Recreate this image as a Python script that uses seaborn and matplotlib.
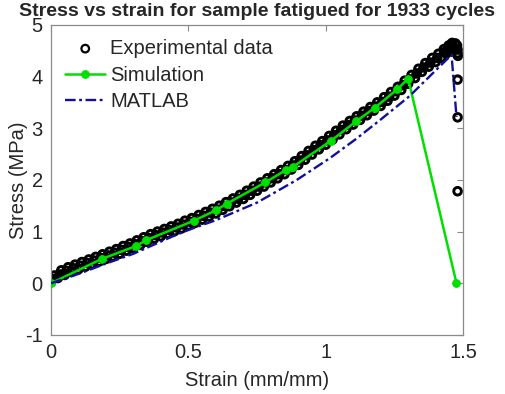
import numpy as np
import pandas as pd
import matplotlib
matplotlib.use("Agg")
import matplotlib.pyplot as plt
import seaborn as sns

# experimental data: lower and upper rows of the dense black band,
# then the drop at failure (x = 1.48)
exp_strain = [0.0000, 0.0125, 0.0250, 0.0375, 0.0500, 0.0625, 0.0750, 0.0875, 0.1000, 0.1125,
              0.1250, 0.1375, 0.1500, 0.1625, 0.1750, 0.1875, 0.2000, 0.2125, 0.2250, 0.2375,
              0.2500, 0.2625, 0.2750, 0.2875, 0.3000, 0.3125, 0.3250, 0.3375, 0.3500, 0.3625,
              0.3750, 0.3875, 0.4000, 0.4125, 0.4250, 0.4375, 0.4500, 0.4625, 0.4750, 0.4875,
              0.5000, 0.5125, 0.5250, 0.5375, 0.5500, 0.5625, 0.5750, 0.5875, 0.6000, 0.6125,
              0.6250, 0.6375, 0.6500, 0.6625, 0.6750, 0.6875, 0.7000, 0.7125, 0.7250, 0.7375,
              0.7500, 0.7625, 0.7750, 0.7875, 0.8000, 0.8125, 0.8250, 0.8375, 0.8500, 0.8625,
              0.8750, 0.8875, 0.9000, 0.9125, 0.9250, 0.9375, 0.9500, 0.9625, 0.9750, 0.9875,
              1.0000, 1.0125, 1.0250, 1.0375, 1.0500, 1.0625, 1.0750, 1.0875, 1.1000, 1.1125,
              1.1250, 1.1375, 1.1500, 1.1625, 1.1750, 1.1875, 1.2000, 1.2125, 1.2250, 1.2375,
              1.2500, 1.2625, 1.2750, 1.2875, 1.3000, 1.3125, 1.3250, 1.3375, 1.3500, 1.3625,
              1.3750, 1.3875, 1.4000, 1.4100, 1.4200, 1.4300, 1.4400, 1.4475, 1.4550, 1.4600,
              1.4650, 1.4720, 1.4780, 1.4800, 1.4800, 1.4810, 1.4800, 1.4800, 1.4800]
exp_stress = [0.02, 0.15, 0.10, 0.25, 0.16, 0.31, 0.22, 0.36, 0.27, 0.41,
              0.32, 0.46, 0.37, 0.51, 0.42, 0.56, 0.47, 0.61, 0.52, 0.66,
              0.57, 0.72, 0.63, 0.77, 0.68, 0.83, 0.74, 0.89, 0.80, 0.95,
              0.86, 1.00, 0.91, 1.05, 0.96, 1.10, 1.01, 1.15, 1.06, 1.21,
              1.12, 1.26, 1.17, 1.32, 1.23, 1.38, 1.29, 1.44, 1.35, 1.50,
              1.42, 1.57, 1.49, 1.64, 1.56, 1.71, 1.63, 1.79, 1.71, 1.87,
              1.79, 1.95, 1.87, 2.03, 1.95, 2.11, 2.03, 2.19, 2.11, 2.27,
              2.20, 2.36, 2.29, 2.46, 2.39, 2.56, 2.49, 2.66, 2.59, 2.75,
              2.68, 2.85, 2.78, 2.95, 2.88, 3.05, 2.98, 3.14, 3.07, 3.23,
              3.16, 3.32, 3.25, 3.41, 3.34, 3.50, 3.43, 3.60, 3.53, 3.70,
              3.63, 3.80, 3.74, 3.92, 3.86, 4.03, 3.97, 4.15, 4.09, 4.26,
              4.19, 4.36, 4.28, 4.44, 4.36, 4.53, 4.45, 4.60, 4.51, 4.65,
              4.57, 4.64, 4.60, 4.52, 4.45, 4.40, 3.94, 3.21, 1.78]

# experimental data: middle row of the band
exp_mid_strain = [0.006, 0.031, 0.056, 0.081, 0.106, 0.131, 0.156, 0.181, 0.206, 0.231,
                  0.256, 0.281, 0.306, 0.331, 0.356, 0.381, 0.406, 0.431, 0.456, 0.481,
                  0.506, 0.531, 0.556, 0.581, 0.606, 0.631, 0.656, 0.681, 0.706, 0.731,
                  0.756, 0.781, 0.806, 0.831, 0.856, 0.881, 0.906, 0.931, 0.956, 0.981,
                  1.006, 1.031, 1.056, 1.081, 1.106, 1.131, 1.156, 1.181, 1.206, 1.231,
                  1.256, 1.281, 1.306, 1.331, 1.356, 1.381, 1.406, 1.431, 1.452]
exp_mid_stress = [0.08, 0.17, 0.24, 0.29, 0.34, 0.39, 0.44, 0.49, 0.54, 0.59,
                  0.645, 0.70, 0.755, 0.815, 0.875, 0.93, 0.98, 1.03, 1.08, 1.135,
                  1.19, 1.245, 1.305, 1.365, 1.425, 1.495, 1.565, 1.635, 1.71, 1.79,
                  1.87, 1.95, 2.03, 2.11, 2.19, 2.28, 2.375, 2.475, 2.575, 2.67,
                  2.765, 2.865, 2.965, 3.06, 3.15, 3.24, 3.33, 3.42, 3.51, 3.61,
                  3.715, 3.83, 3.945, 4.06, 4.175, 4.27, 4.36, 4.47, 4.56]

# simulation
sim_strain = [0.0, 0.185, 0.31, 0.345, 0.52, 0.60, 0.64, 0.78, 0.855, 0.88,
              1.02, 1.11, 1.18, 1.26, 1.30, 1.476]
sim_stress = [0.0, 0.47, 0.72, 0.83, 1.21, 1.41, 1.54, 1.95, 2.19, 2.25,
              2.76, 3.13, 3.40, 3.75, 3.96, 0.0]

# MATLAB fit
mat_strain = [0.0, 0.10, 0.20, 0.30, 0.44, 0.505, 0.60, 0.75, 0.895, 1.015,
              1.11, 1.196, 1.305, 1.458, 1.476]
mat_stress = [0.0, 0.18, 0.38, 0.57, 0.90, 1.04, 1.22, 1.56, 2.00, 2.42,
              2.79, 3.15, 3.62, 4.42, 3.22]

sns.set_theme(style="white")
plt.rcParams['font.family'] = ['Liberation Sans', 'DejaVu Sans']
plt.rcParams['axes.unicode_minus'] = False

fig = plt.figure(figsize=(5.05, 3.94), dpi=100)
ax = fig.add_axes([0.101, 0.150, 0.816, 0.787])

green = '#00e000'
navy = '#10109c'
fs = 14.5

exp = pd.DataFrame({'strain': exp_strain + exp_mid_strain,
                    'stress': exp_stress + exp_mid_stress})

sns.scatterplot(data=exp, x='strain', y='stress', ax=ax, marker='o', s=30,
                facecolor='none', edgecolor='black', linewidth=2.1,
                label='Experimental data', zorder=2)
sns.lineplot(x=sim_strain, y=sim_stress, ax=ax, sort=False, estimator=None,
             color=green, linewidth=1.8, marker='o', markersize=5.5,
             markeredgecolor=green, label='Simulation', zorder=3)
sns.lineplot(x=mat_strain, y=mat_stress, ax=ax, sort=False, estimator=None,
             color=navy, linewidth=1.7, linestyle=(0, (4.5, 1.5, 1.2, 1.5)),
             label='MATLAB', zorder=4)

ax.set_xlim(0, 1.5)
ax.set_ylim(-1, 5)
ax.set_xticks([0, 0.5, 1, 1.5])
ax.set_xticklabels(['0', '0.5', '1', '1.5'])
ax.set_yticks([-1, 0, 1, 2, 3, 4, 5])

edge = '#8a8a8a'
for sp in ax.spines.values():
    sp.set_color(edge)
    sp.set_linewidth(0.9)
ax.tick_params(direction='in', length=4, width=0.8, color=edge,
               top=True, right=True, labelsize=fs, labelcolor='#262626', pad=6)

ax.set_xlabel('Strain (mm/mm)', fontsize=fs, color='#262626', labelpad=6)
ax.set_ylabel('Stress (MPa)', fontsize=fs, color='#262626', labelpad=-2)
ax.set_title('Stress vs strain for sample fatigued for 1933 cycles',
             fontsize=14, fontweight='bold', pad=6)

leg = ax.legend(loc='upper left', frameon=False, fontsize=fs,
                handlelength=2.0, handletextpad=0.25, labelspacing=0.38,
                borderaxespad=0.3, bbox_to_anchor=(0.0, 1.0))
# the legend marker for the experimental data keeps a thinner edge
leg.legend_handles[0].set_linewidth(1.6)

fig.savefig('out.png', dpi=100)
